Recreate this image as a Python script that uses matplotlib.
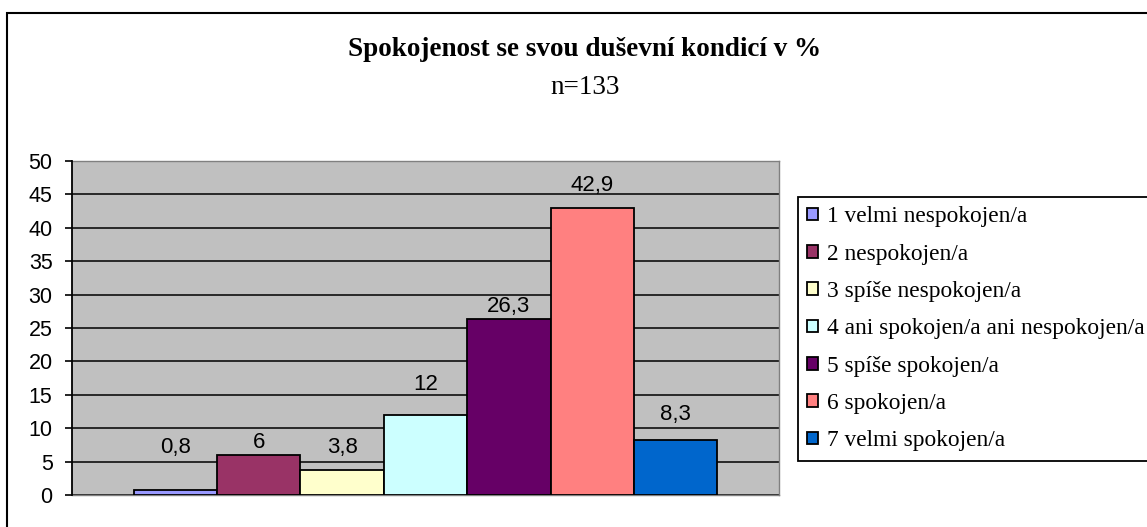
import numpy as np
import matplotlib
matplotlib.use("Agg")
from matplotlib import pyplot as plt
from matplotlib.patches import Rectangle

# data
categories = ["1 velmi nespokojen/a", "2 nespokojen/a", "3 spíše nespokojen/a",
              "4 ani spokojen/a ani nespokojen/a", "5 spíše spokojen/a",
              "6 spokojen/a", "7 velmi spokojen/a"]
values = [0.8, 6, 3.8, 12, 26.3, 42.9, 8.3]
value_labels = ["0,8", "6", "3,8", "12", "26,3", "42,9", "8,3"]
yticks = [0, 5, 10, 15, 20, 25, 30, 35, 40, 45, 50]

# Excel 2003 palette
colors = ["#9999FF", "#993366", "#FFFFCC", "#CCFFFF", "#660066", "#FF8080", "#0066CC"]
# label offsets above bar tops (pixels, as placed in the reference)
label_offsets = [42, 12, 22, 30, 13, 23, 25]

W, H = 1147, 527
fig = plt.figure(figsize=(W / 100, H / 100), dpi=100)

# outer chart border (right and bottom are off the picture)
fig.patches.append(Rectangle((7 / W, -0.1), 1.2, 1 - 12.5 / H + 0.1,
                             transform=fig.transFigure, fill=False,
                             edgecolor="black", linewidth=1.5))

ax = fig.add_axes([72 / W, (H - 495) / H, (779 - 72) / W, (495 - 161) / H])
ax.set_facecolor("#C0C0C0")
ax.set_axisbelow(True)

x = np.arange(len(values))
for i in range(len(values)):
    ax.bar(x[i], values[i], width=1.0, color=colors[i], edgecolor="black",
           linewidth=1.3, label=categories[i], zorder=3)
    ax.annotate(value_labels[i], (x[i], values[i]),
                xytext=(0, label_offsets[i] * 0.72), textcoords="offset points",
                ha="center", va="center", fontsize=16,
                family="Liberation Sans", zorder=4)

ax.set_xlim(-0.5 - 0.74, len(values) - 0.5 + 0.74)
ax.set_ylim(0, 50)
ax.set_yticks(yticks)
ax.set_yticklabels([str(t) for t in yticks], family="Liberation Sans", fontsize=15.5)
ax.set_xticks([])
ax.tick_params(axis="y", direction="out", length=5, width=1.2, pad=9, color="black")
ax.yaxis.grid(True, color="black", linewidth=1.1)

for s in ["top", "right", "bottom"]:
    ax.spines[s].set_color("#808080")
    ax.spines[s].set_linewidth(1.0)
ax.spines["left"].set_color("black")
ax.spines["left"].set_linewidth(1.3)
ax.spines["left"].set_zorder(5)

fig.text(585 / W, 1 - 50 / H, "Spokojenost se svou duševní kondicí v %",
         ha="center", va="center", fontsize=19.5, fontweight="bold",
         family="Liberation Serif")
fig.text(585 / W, 1 - 87 / H, "n=133", ha="center", va="center",
         fontsize=19.5, family="Liberation Serif")

leg = ax.legend(loc="upper left", bbox_to_anchor=(798 / W, 1 - 197 / H),
                bbox_transform=fig.transFigure, borderaxespad=0,
                prop={"family": "Liberation Serif", "size": 16.8},
                handlelength=0.45, handleheight=0.45, handletextpad=0.4,
                labelspacing=0.7, borderpad=0.4, fancybox=False)
leg.get_frame().set_edgecolor("black")
leg.get_frame().set_linewidth(1.3)
leg.get_frame().set_alpha(None)
leg.get_frame().set_facecolor("white")

fig.savefig("out.png", dpi=100)
